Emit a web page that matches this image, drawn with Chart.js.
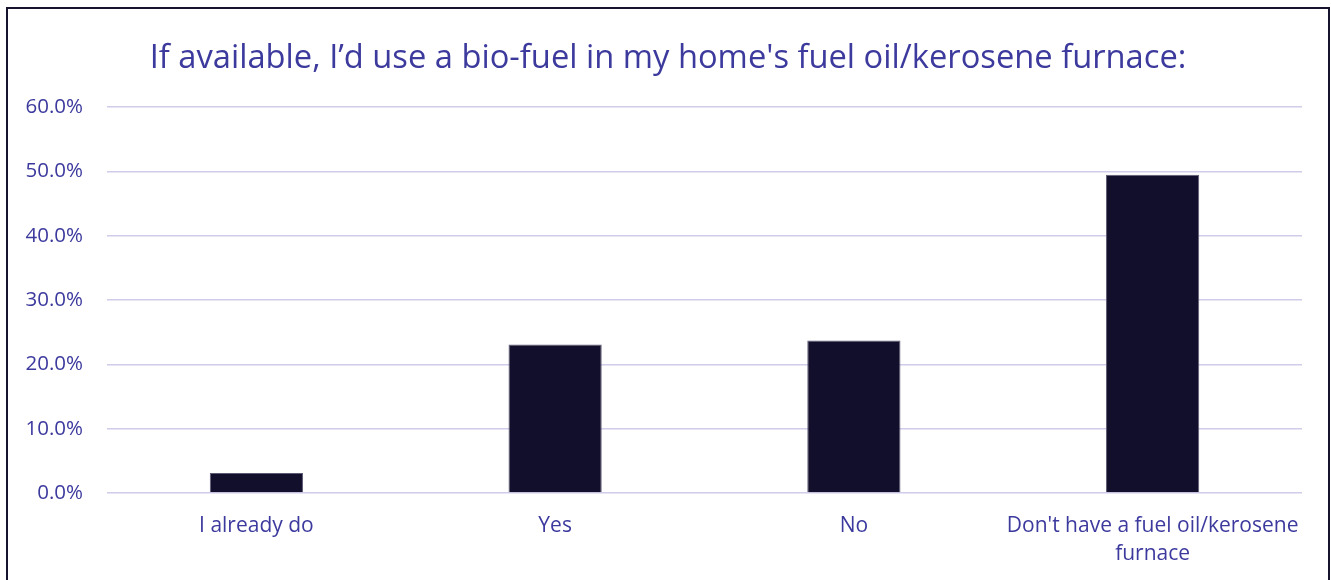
<!DOCTYPE html>
<html>
<head>
<meta charset="utf-8">
<script src="https://cdn.jsdelivr.net/npm/chart.js@4"></script>
<style>
    body { margin: 0; background: #fff; }
    #frame {
        position: absolute;
        left: 6px;
        top: 7px;
        width: 1320px;
        height: 620px;
        border: 2px solid #15132e;
    }
</style>
</head>
<body>
<div id="frame"><canvas id="myChart"></canvas></div>
<script>
const categories = ['I already do', 'Yes', 'No', ["Don't have a fuel oil/kerosene", 'furnace']];
const shares = [3.1, 23.1, 23.7, 49.5];
const yTicks = [0, 10, 20, 30, 40, 50, 60];

const textColor = '#3d3a9e';
const fontFamily = '"Open Sans", sans-serif';

function mainEvent() {
    const ctx = document.querySelector('#myChart');

    new Chart(ctx, {
        type: 'bar',
        data: {
            labels: categories,
            datasets: [{
                label: 'Share',
                data: shares,
                backgroundColor: '#120f2d',
                borderColor: '#5d5b74',
                borderWidth: 1,
                categoryPercentage: 1,
                barPercentage: 0.312
            }]
        },
        options: {
            responsive: true,
            maintainAspectRatio: false,
            animation: false,
            layout: {
                padding: 0
            },
            plugins: {
                legend: { display: false },
                tooltip: { enabled: false },
                title: {
                    display: true,
                    text: "If available, I\u2019d use a bio-fuel in my home's fuel oil/kerosene furnace:",
                    color: textColor,
                    font: { family: fontFamily, size: 32.7, weight: 'normal', lineHeight: 1.2 },
                    padding: { top: 30, bottom: 29 }
                }
            },
            scales: {
                x: {
                    grid: { display: false },
                    border: { display: false },
                    ticks: {
                        color: textColor,
                        font: { family: fontFamily, size: 21, lineHeight: 1.333 },
                        padding: 11,
                        maxRotation: 0,
                        autoSkip: false
                    },
                    afterFit: function (scale) { scale.height = 136; }
                },
                y: {
                    min: yTicks[0],
                    max: yTicks[yTicks.length - 1],
                    afterBuildTicks: function (scale) {
                        scale.ticks = yTicks.map(v => ({ value: v }));
                    },
                    grid: {
                        color: '#d0ccea',
                        lineWidth: 1.5,
                        drawTicks: false
                    },
                    border: { display: false },
                    ticks: {
                        color: textColor,
                        font: { family: fontFamily, size: 20.5 },
                        padding: 24,
                        callback: v => v.toFixed(1) + '%'
                    },
                    afterFit: function (scale) { scale.width = 99; }
                },
                // empty right-hand axis, only to leave the white margin on the right
                spacer: {
                    type: 'linear',
                    position: 'right',
                    display: true,
                    grid: { display: false, drawTicks: false },
                    border: { display: false },
                    ticks: { display: false },
                    afterFit: function (scale) { scale.width = 26; }
                }
            }
        }
    });
}

document.addEventListener("DOMContentLoaded", () => mainEvent());
</script>
</body>
</html>
